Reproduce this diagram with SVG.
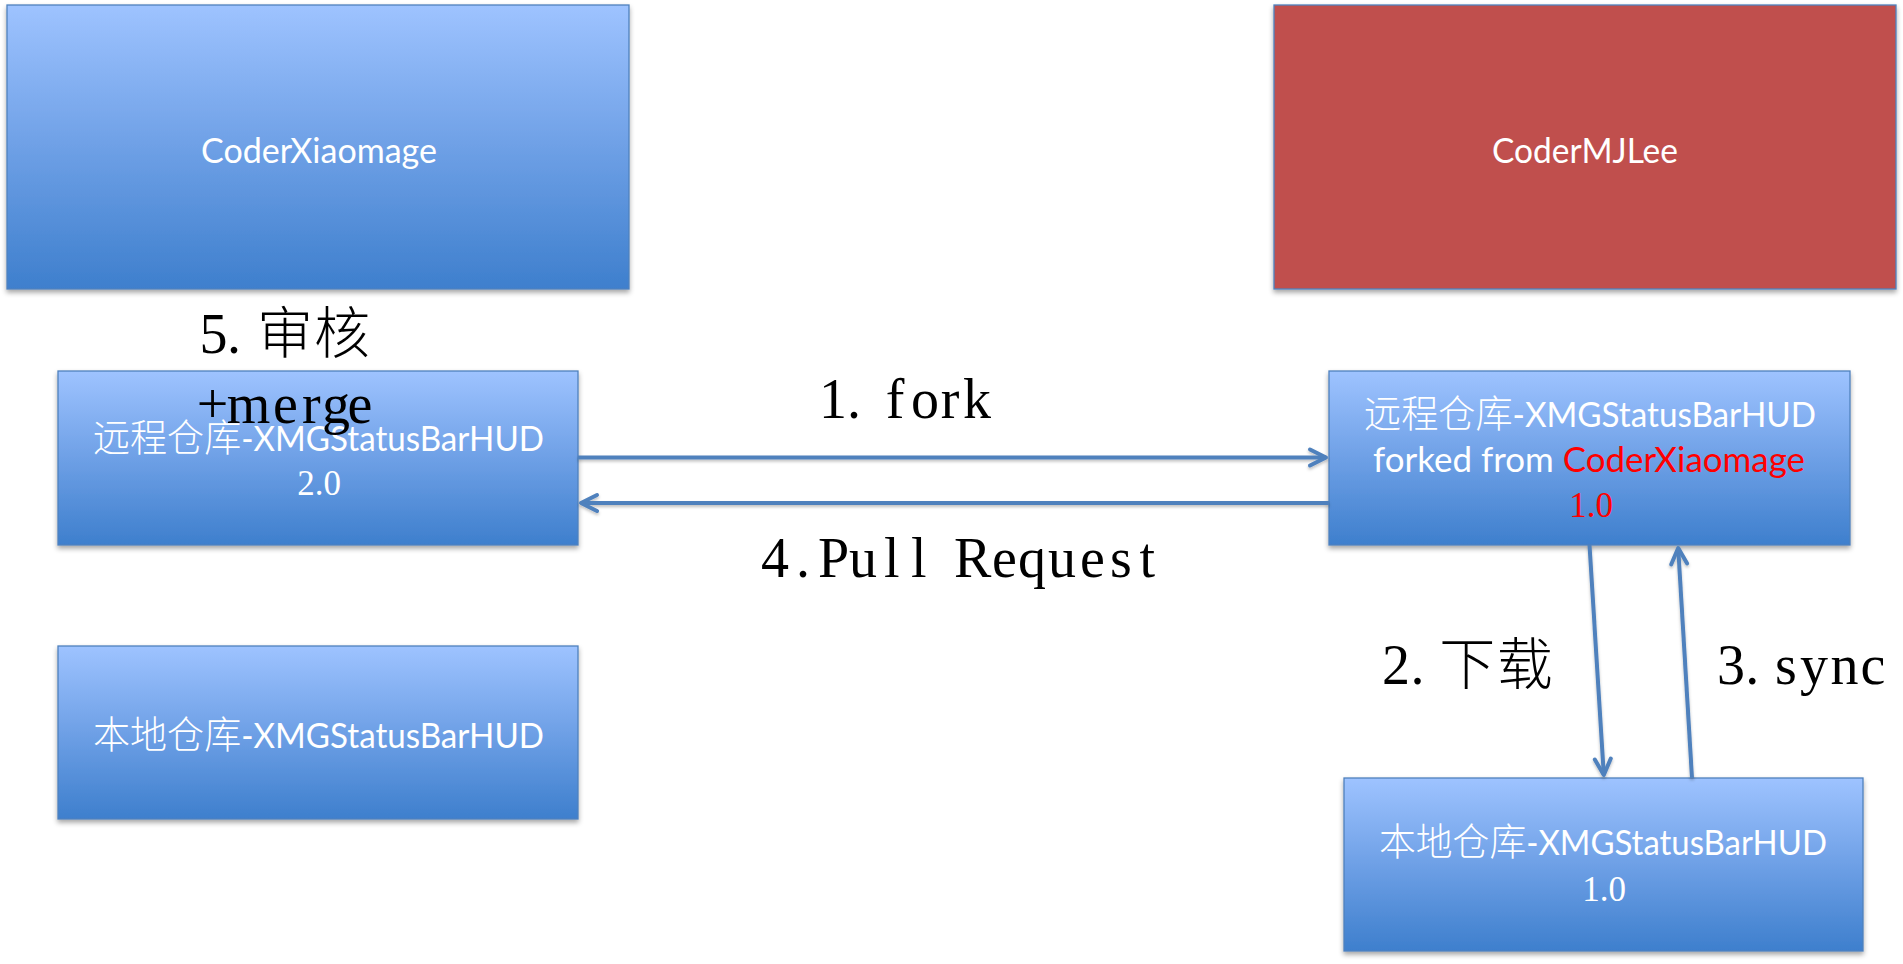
<svg xmlns="http://www.w3.org/2000/svg" width="1903" height="964" viewBox="0 0 1903 964">
<style>
.box{stroke:#4F81BD;stroke-width:1.3;filter:url(#sh)}
.blue{fill:url(#bg)}
.red{fill:#C0504D}
.t{font-family:Lato,'Noto Sans CJK SC',sans-serif;font-size:34px;fill:#fff}
.cjk{font-family:'Noto Sans CJK SC',sans-serif;font-size:38px;font-weight:300}
.num{font-family:'Liberation Serif','Times New Roman',serif;font-size:35px;fill:#fff;text-anchor:middle}
.lbl{font-family:'Liberation Serif','Noto Sans CJK SC',serif;font-size:56px;fill:#000}
.lcjk{font-family:'Noto Sans CJK SC',sans-serif;font-weight:300}
.conn{stroke:#4F81BD;stroke-width:4;fill:none;marker-end:url(#arr);filter:url(#lsh)}
</style>
<defs>
<linearGradient id="bg" x1="0" y1="0" x2="0" y2="1">
<stop offset="0" stop-color="#9EC3FF"/>
<stop offset="0.5" stop-color="#6EA0E6"/>
<stop offset="1" stop-color="#3E7FCD"/>
</linearGradient>
<filter id="sh" x="-5%" y="-5%" width="110%" height="115%">
<feDropShadow dx="0" dy="3" stdDeviation="2.5" flood-color="#000" flood-opacity="0.35"/>
</filter>
<filter id="lsh" filterUnits="userSpaceOnUse" x="0" y="0" width="1903" height="964">
<feDropShadow dx="0" dy="2" stdDeviation="1.5" flood-color="#000" flood-opacity="0.25"/>
</filter>
<marker id="arr" markerUnits="userSpaceOnUse" markerWidth="24" markerHeight="20" viewBox="-20 -10 24 20" refX="0" refY="0" orient="auto" overflow="visible">
<path d="M-16,-8 L0,0 L-16,8" fill="none" stroke="#4F81BD" stroke-width="4" stroke-linecap="round" stroke-linejoin="round"/>
</marker>
</defs>
<rect width="1903" height="964" fill="#fff"/>

<g id="coder-xiaomage">
<rect class="box blue" x="7" y="5" width="622" height="284"/>
<text class="t" x="201" y="163" textLength="236" lengthAdjust="spacingAndGlyphs">CoderXiaomage</text>
</g>

<g id="coder-mjlee">
<rect class="box red" x="1274" y="5" width="622" height="284"/>
<text class="t" x="1492" y="163" textLength="186" lengthAdjust="spacingAndGlyphs">CoderMJLee</text>
</g>

<g id="remote-left">
<rect class="box blue" x="58" y="371" width="520" height="174"/>
<text class="t" x="93" y="451" textLength="451" lengthAdjust="spacingAndGlyphs"><tspan class="cjk">远程仓库</tspan>-XMGStatusBarHUD</text>
<text class="num" x="319" y="495">2.0</text>
</g>

<g id="local-left">
<rect class="box blue" x="58" y="646" width="520" height="173"/>
<text class="t" x="93" y="748" textLength="451" lengthAdjust="spacingAndGlyphs"><tspan class="cjk">本地仓库</tspan>-XMGStatusBarHUD</text>
</g>

<g id="remote-right">
<rect class="box blue" x="1329" y="371" width="521" height="174"/>
<text class="t" x="1364" y="427" textLength="452" lengthAdjust="spacingAndGlyphs"><tspan class="cjk">远程仓库</tspan>-XMGStatusBarHUD</text>
<text class="t" x="1373" y="472" textLength="432" lengthAdjust="spacingAndGlyphs">forked from <tspan fill="#FF0000">CoderXiaomage</tspan></text>
<text class="num" x="1591" y="517" style="fill:#FF0000">1.0</text>
</g>

<g id="local-right">
<rect class="box blue" x="1344" y="778" width="519" height="173"/>
<text class="t" x="1379" y="855" textLength="448" lengthAdjust="spacingAndGlyphs"><tspan class="cjk">本地仓库</tspan>-XMGStatusBarHUD</text>
<text class="num" x="1604" y="901">1.0</text>
</g>

<g id="connectors">
<line class="conn" x1="578" y1="457.5" x2="1326" y2="457.5"/>
<line class="conn" x1="1329" y1="503" x2="581" y2="503"/>
<line class="conn" x1="1589.5" y1="545" x2="1603.8" y2="775"/>
<line class="conn" x1="1692" y1="778" x2="1678.2" y2="548"/>
</g>

<g id="labels">
<text class="lbl" x="819 847 885.7 911 940.7 963" y="418">1.fork</text>
<text class="lbl" x="761 796 818 849 884 911 940 954 992 1018 1048 1080 1110 1139.5" y="577">4.Pull Request</text>
<text class="lbl" x="1382 1410.4 1439.3 1496.8" y="684">2.<tspan class="lcjk">下载</tspan></text>
<text class="lbl" x="1717 1745.3 1775 1800 1830.5 1860.6" y="684">3.sync</text>
<text class="lbl" x="199.5 227 257 314" y="353">5.<tspan class="lcjk">审核</tspan></text>
<text class="lbl" x="196.7 226.7 273 302 322 347.6" y="423">+merge</text>
</g>
</svg>
